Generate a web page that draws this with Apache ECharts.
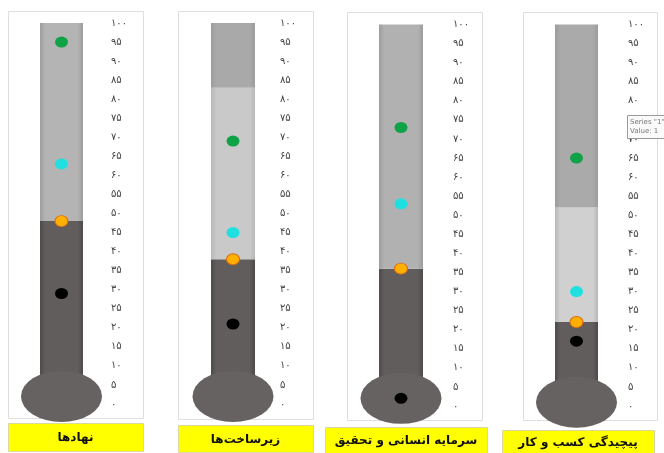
<!DOCTYPE html>
<html>
<head>
<meta charset="utf-8">
<script src="https://cdn.jsdelivr.net/npm/echarts@6/dist/echarts.min.js"></script>
<style>
  html, body { margin: 0; padding: 0; background: #fff; }
  #chart_thermo { width: 664px; height: 453px; }
</style>
</head>
<body>
<div id="chart_thermo"></div>
<script>
// 指标名称（底部黄色标签）
const categories = ['نهادها', 'زیرساخت‌ها', 'سرمایه انسانی و تحقیق', 'پیچیدگی کسب و کار']
// 温度计填充高度（深色部分）
const fillLevel = [48, 38, 36, 22]
// 浅色区间上沿（无浅色区间时等于填充高度）
const bandTop = [48, 83, 36, 52]
// 各点的值
const greenVal = [95, 69, 73, 65]
const cyanVal = [63, 45, 53, 30]
const orangeVal = [48, 38, 36, 22]
const blackVal = [29, 21, 2, 17]
// 球泡中心所在的值
const bulbLevel = [2, 2, 2, 1]
// 刻度
const tickMin = 0
const tickMax = 100
const tickStep = 5

const faDigits = '۰۱۲۳۴۵۶۷۸۹'
const toFa = v => String(v).replace(/\d/g, d => faDigits[d])

// 布局
const grids = [
  { left: 20, width: 83, top: 23, height: 381 },
  { left: 194, width: 78, top: 23, height: 381 },
  { left: 357, width: 88, top: 24.5, height: 381.5 },
  { left: 533, width: 87, top: 24.5, height: 381.5 }
]
const barWidths = [43, 44, 44, 43]
const upperColor = ['#b4b4b4', '#a9a9a9', '#b1b1b1', '#aaaaaa']
const bandColor = ['#c9c9c9', '#c9c9c9', '#c9c9c9', '#d0d0d0']
const frames = [
  { x: 8, y: 11, w: 135, h: 407 },
  { x: 178, y: 11, w: 135, h: 408 },
  { x: 347, y: 12, w: 135, h: 408 },
  { x: 523, y: 12, w: 134, h: 408 }
]
const boxes = [
  { x: 8, y: 423, w: 135, h: 28 },
  { x: 178, y: 425, w: 135, h: 27 },
  { x: 325, y: 427, w: 162, h: 26 },
  { x: 502, y: 430, w: 152, h: 24 }
]

function tubeFill(color, edge) {
  return {
    type: 'linear', x: 0, y: 0, x2: 1, y2: 0,
    colorStops: [
      { offset: 0, color: edge },
      { offset: 0.12, color: color },
      { offset: 0.88, color: color },
      { offset: 1, color: edge }
    ]
  }
}

const chart = echarts.init(document.getElementById('chart_thermo'), null, { renderer: 'canvas' })

let series = []
categories.forEach((c, i) => {
  const stack = 'tube' + i
  const common = { xAxisIndex: i, yAxisIndex: i, stack: stack, type: 'bar', barWidth: barWidths[i], silent: true }
  series.push({ ...common, data: [fillLevel[i]], itemStyle: { color: tubeFill('#625d5d', '#4e4a4a') }, z: 2 })
  series.push({ ...common, data: [bandTop[i] - fillLevel[i]], itemStyle: { color: tubeFill(bandColor[i], '#b8b8b8') }, z: 2 })
  series.push({ ...common, data: [tickMax - bandTop[i]], itemStyle: { color: tubeFill(upperColor[i], '#9c9c9c') }, z: 2 })
  // 球泡
  series.push({
    type: 'scatter', xAxisIndex: i, yAxisIndex: i, data: [bulbLevel[i]],
    symbol: 'circle', symbolSize: [81, 51], itemStyle: { color: '#676262', opacity: 1 }, z: 3, silent: true
  })
  const dot = (vals, color, extra) => ({
    type: 'scatter', xAxisIndex: i, yAxisIndex: i, data: [vals[i]],
    symbol: 'circle', symbolSize: [13, 11], itemStyle: { color: color, opacity: 1, ...extra }, z: 5, silent: true
  })
  series.push(dot(greenVal, '#0fa246'))
  series.push(dot(cyanVal, '#1fe0e0'))
  series.push(dot(orangeVal, '#ffb000', { borderColor: '#dc6a10', borderWidth: 1 }))
  series.push(dot(blackVal, '#000000'))
})

let graphic = []
frames.forEach(f => {
  graphic.push({
    type: 'rect', shape: { x: f.x + 0.5, y: f.y + 0.5, width: f.w, height: f.h },
    style: { fill: 'none', stroke: '#dedede', lineWidth: 1 }, z: 0, silent: true
  })
})
boxes.forEach((b, i) => {
  graphic.push({
    type: 'rect', shape: { x: b.x + 0.5, y: b.y + 0.5, width: b.w, height: b.h },
    style: { fill: '#ffff00', stroke: '#d8d8a0', lineWidth: 1 }, z: 10, silent: true
  })
  graphic.push({
    type: 'text', x: b.x + b.w / 2, y: b.y + b.h / 2 + 1,
    style: {
      text: categories[i], fill: '#111', font: 'bold 12px "DejaVu Sans"',
      align: 'center', verticalAlign: 'middle'
    },
    z: 11, silent: true
  })
})
// 截图里残留的提示框
graphic.push({
  type: 'rect', shape: { x: 627.5, y: 115.5, width: 50, height: 23 },
  style: { fill: '#fafafa', stroke: '#9a9a9a', lineWidth: 1 }, z: 20, silent: true
})
graphic.push({
  type: 'text', x: 630, y: 118,
  style: { text: 'Series "1"\nValue: 1', fill: '#777', font: '7px "DejaVu Sans"', lineHeight: 9 },
  z: 21, silent: true
})

const option = {
  animation: false,
  grid: grids.map(g => ({ ...g, containLabel: false })),
  xAxis: grids.map((g, i) => ({
    type: 'category', gridIndex: i, data: [categories[i]],
    show: false
  })),
  yAxis: grids.map((g, i) => ({
    type: 'value', gridIndex: i, position: 'right',
    min: tickMin, max: tickMax, interval: tickStep,
    axisLine: { show: false }, axisTick: { show: false }, splitLine: { show: false },
    axisLabel: {
      margin: 8, color: '#444', fontSize: 10, fontFamily: 'DejaVu Sans',
      formatter: v => toFa(v)
    }
  })),
  series: series,
  graphic: graphic
}

chart.setOption(option)
</script>
</body>
</html>
